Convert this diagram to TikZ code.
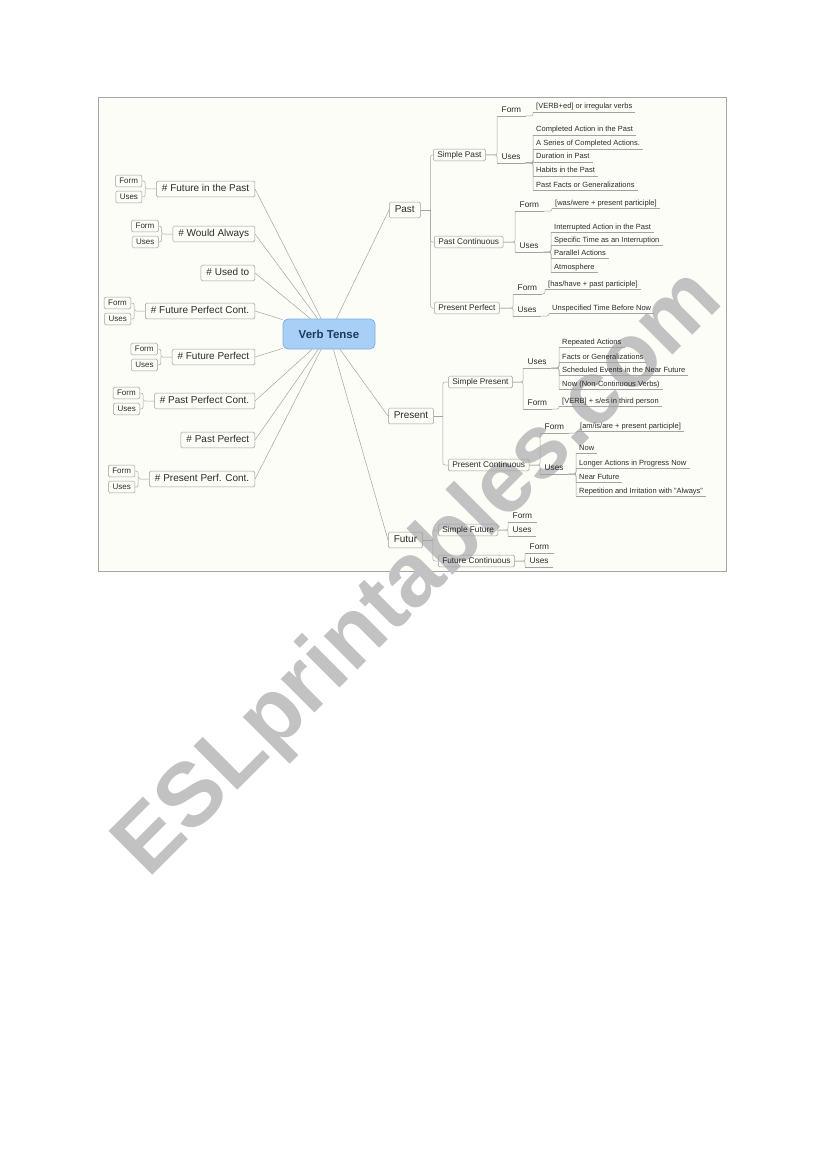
\documentclass[tikz,border=0pt]{standalone}
\usepackage{fontspec}
\setmainfont{Liberation Sans}
\usetikzlibrary{calc,positioning}

\definecolor{frameback}{HTML}{FDFDF7}
\definecolor{framegray}{HTML}{A6A6A6}
\definecolor{linegray}{HTML}{A3A3A3}
\definecolor{boxgray}{HTML}{9C9C9C}
\definecolor{textgray}{HTML}{2B2B2B}
\definecolor{centerfill}{HTML}{A8CFF5}
\definecolor{centerdraw}{HTML}{78AEE3}
\definecolor{centertext}{HTML}{1E3A5C}
\definecolor{markgray}{HTML}{C2C2C2}

\tikzset{
  conn/.style={draw=linegray, line width=0.5pt, rounded corners=2pt},
  ulline/.style={draw=linegray, line width=0.6pt},
  centerbox/.style={draw=centerdraw, fill=centerfill, line width=0.7pt, rounded corners=5pt,
    minimum width=92pt, minimum height=30pt, text=centertext,
    font=\fontsize{11.5}{13}\selectfont\bfseries},
  mainbox/.style={draw=boxgray, line width=0.5pt, rounded corners=1.5pt, text=textgray,
    font=\fontsize{10}{12}\selectfont, text height=7.3pt, text depth=2.1pt,
    inner ysep=3.2pt, inner xsep=5.5pt},
  subbox/.style={mainbox, font=\fontsize{8.3}{10}\selectfont, text height=6pt,
    text depth=1.8pt, inner ysep=2pt, inner xsep=4pt},
  smallbox/.style={mainbox, font=\fontsize{8}{10}\selectfont, text height=5.8pt,
    text depth=1.7pt, inner ysep=2.2pt, inner xsep=4pt},
  ultopic/.style={anchor=south west, text=textgray, font=\fontsize{8.3}{10}\selectfont,
    inner xsep=4.5pt, inner ysep=1.2pt, text height=6pt, text depth=1.8pt,
    append after command={(\tikzlastnode.south west) edge[ulline] (\tikzlastnode.south east)}},
  leaf/.style={ultopic, font=\fontsize{7.5}{9}\selectfont, inner xsep=3pt,
    text height=5.5pt, text depth=1.6pt},
}

\begin{document}
\begin{tikzpicture}[x=1pt, y=-1pt]
  \useasboundingbox (0,0) rectangle (821,1169);
  % frame of the map
  \draw[framegray, fill=frameback, line width=0.8pt] (98,97) rectangle (726,571);
  % watermark
  \node[rotate=45, text=markgray, font=\fontsize{90}{90}\selectfont\bfseries] (mark) at (420,575) {ESLprintables.com};

  % central topic
  \node[centerbox] (vt) at (329,334) {Verb Tense};

  % left topics
  \node[mainbox, anchor=east] (fip)  at (255,189) {\# Future in the Past};
  \node[mainbox, anchor=east] (wa)   at (255,234) {\# Would Always};
  \node[mainbox, anchor=east] (ut)   at (255,273) {\# Used to};
  \node[mainbox, anchor=east] (fpc)  at (255,311) {\# Future Perfect Cont.};
  \node[mainbox, anchor=east] (fp)   at (255,357) {\# Future Perfect};
  \node[mainbox, anchor=east] (ppc)  at (255,401) {\# Past Perfect Cont.};
  \node[mainbox, anchor=east] (pap)  at (255,440) {\# Past Perfect};
  \node[mainbox, anchor=east] (prpc) at (255,479) {\# Present Perf. Cont.};
  \foreach \n in {fip,wa,ut,fpc,fp,ppc,pap,prpc}
    \draw[conn] (\n.east) -- (vt);
  % Form / Uses of the left topics
  \foreach \n in {fip,wa,fpc,fp,ppc,prpc}{
    \node[smallbox, anchor=east] (\n-f) at ([shift={(-14,-8)}]\n.west) {Form};
    \node[smallbox, anchor=east] (\n-u) at ([shift={(-14,8)}]\n.west) {Uses};
    \draw[conn] (\n.west) -- ++(-11,0) coordinate (\n-j) |- (\n-f.east);
    \draw[conn] (\n-j) |- (\n-u.east);
  }

  % right topics
  \node[mainbox, anchor=west] (past) at (389,210) {Past};
  \node[mainbox, anchor=west] (pres) at (388,416) {Present};
  \node[mainbox, anchor=west] (fut)  at (388,540) {Futur};
  \foreach \n in {past,pres,fut}
    \draw[conn] (vt) -- (\n.west);

  % Past
  \node[subbox, anchor=west] (sp) at (433,155) {Simple Past};
  \node[subbox, anchor=west] (pc) at (434,242) {Past Continuous};
  \node[subbox, anchor=west] (pp) at (434,308) {Present Perfect};
  \draw[conn] (past.east) -- ++(10,0) coordinate (pastJ);
  \foreach \n in {sp,pc,pp}
    \draw[conn] (pastJ) |- (\n.west);

  \node[ultopic] (spF) at (497,116) {Form};
  \node[ultopic] (spU) at (497,163) {Uses};
  \node[leaf] (spF1) at (533,112) {[VERB+ed] or irregular verbs};
  \node[leaf] (spU1) at (533,135) {Completed Action in the Past};
  \node[leaf] (spU2) at (533,149) {A Series of Completed Actions.};
  \node[leaf] (spU3) at (533,162) {Duration in Past};
  \node[leaf] (spU4) at (533,176) {Habits in the Past};
  \node[leaf] (spU5) at (533,190) {Past Facts or Generalizations};
  \draw[conn] (sp.east) -| (spF.south west);
  \draw[conn] (sp.east) -| (spU.south west);
  \draw[conn] (spF.south east) -| (spF1.south west);
  \foreach \i in {1,...,5}
    \draw[conn] (spU.south east) -| (spU\i.south west);

  \node[ultopic] (pcF) at (515,211) {Form};
  \node[ultopic] (pcU) at (515,252) {Uses};
  \node[leaf] (pcF1) at (552,208) {[was/were + present participle]};
  \node[leaf] (pcU1) at (551,232) {Interrupted Action in the Past};
  \node[leaf] (pcU2) at (551,245) {Specific Time as an Interruption};
  \node[leaf] (pcU3) at (551,258) {Parallel Actions};
  \node[leaf] (pcU4) at (551,272) {Atmosphere};
  \draw[conn] (pc.east) -| (pcF.south west);
  \draw[conn] (pc.east) -| (pcU.south west);
  \draw[conn] (pcF.south east) -| (pcF1.south west);
  \foreach \i in {1,...,4}
    \draw[conn] (pcU.south east) -| (pcU\i.south west);

  \node[ultopic] (ppF) at (513,294) {Form};
  \node[ultopic] (ppU) at (513,316) {Uses};
  \node[leaf] (ppF1) at (545,289) {[has/have + past participle]};
  \node[leaf] (ppU1) at (549,313) {Unspecified Time Before Now};
  \draw[conn] (pp.east) -| (ppF.south west);
  \draw[conn] (pp.east) -| (ppU.south west);
  \draw[conn] (ppF.south east) -| (ppF1.south west);
  \draw[conn] (ppU.south east) -| (ppU1.south west);

  % Present
  \node[subbox, anchor=west] (spr) at (448,382) {Simple Present};
  \node[subbox, anchor=west] (pco) at (448,465) {Present Continuous};
  \draw[conn] (pres.east) -- ++(9,0) coordinate (presJ);
  \foreach \n in {spr,pco}
    \draw[conn] (presJ) |- (\n.west);

  \node[ultopic] (sprU) at (523,368) {Uses};
  \node[ultopic] (sprF) at (523,409) {Form};
  \node[leaf] (sprU1) at (559,347) {Repeated Actions};
  \node[leaf] (sprU2) at (559,362) {Facts or Generalizations};
  \node[leaf] (sprU3) at (559,375) {Scheduled Events in the Near Future};
  \node[leaf] (sprU4) at (559,389) {Now (Non-Continuous Verbs)};
  \node[leaf] (sprF1) at (559,406) {[VERB] + s/es in third person};
  \draw[conn] (spr.east) -| (sprU.south west);
  \draw[conn] (spr.east) -| (sprF.south west);
  \foreach \i in {1,...,4}
    \draw[conn] (sprU.south east) -| (sprU\i.south west);
  \draw[conn] (sprF.south east) -| (sprF1.south west);

  \node[ultopic] (pcoF) at (540,433) {Form};
  \node[ultopic] (pcoU) at (540,474) {Uses};
  \node[leaf] (pcoF1) at (577,431) {[am/is/are + present participle]};
  \node[leaf] (pcoU1) at (576,453) {Now};
  \node[leaf] (pcoU2) at (576,468) {Longer Actions in Progress Now};
  \node[leaf] (pcoU3) at (576,482) {Near Future};
  \node[leaf] (pcoU4) at (576,496) {Repetition and Irritation with "Always"};
  \draw[conn] (pco.east) -| (pcoF.south west);
  \draw[conn] (pco.east) -| (pcoU.south west);
  \draw[conn] (pcoF.south east) -| (pcoF1.south west);
  \foreach \i in {1,...,4}
    \draw[conn] (pcoU.south east) -| (pcoU\i.south west);

  % Futur
  \node[subbox, anchor=west] (sfu) at (438,530) {Simple Future};
  \node[subbox, anchor=west] (fco) at (438,561) {Future Continuous};
  \draw[conn] (fut.east) -- ++(10,0) coordinate (futJ);
  \foreach \n in {sfu,fco}
    \draw[conn] (futJ) |- (\n.west);

  \node[ultopic] (sfuF) at (508,522) {Form};
  \node[ultopic] (sfuU) at (508,536) {Uses};
  \node[ultopic] (fcoF) at (525,553) {Form};
  \node[ultopic] (fcoU) at (525,567) {Uses};
  \draw[conn] (sfu.east) -| (sfuF.south west);
  \draw[conn] (sfu.east) -| (sfuU.south west);
  \draw[conn] (fco.east) -| (fcoF.south west);
  \draw[conn] (fco.east) -| (fcoU.south west);
\end{tikzpicture}
\end{document}
